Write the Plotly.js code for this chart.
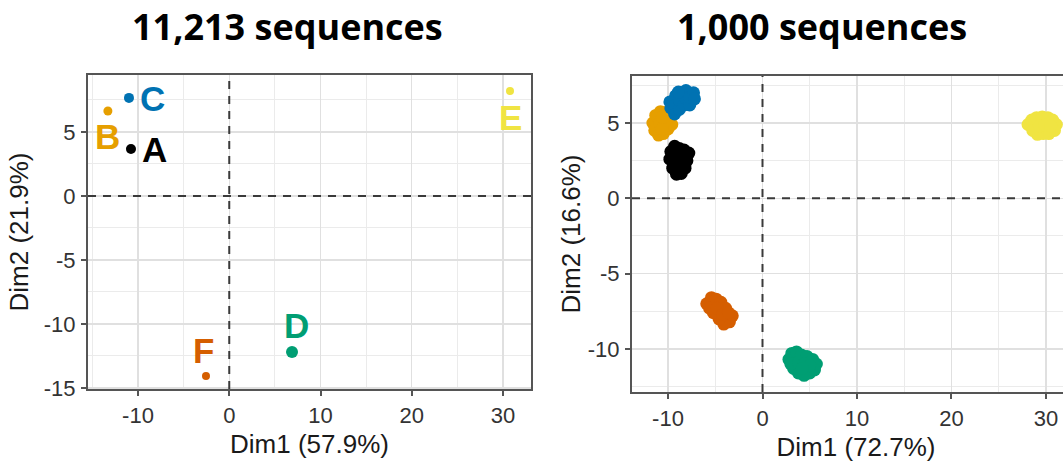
<!DOCTYPE html>
<html><head><meta charset="utf-8">
<script src="https://cdn.plot.ly/plotly-3.0.1.min.js"></script>
<style>html,body{margin:0;padding:0;overflow:hidden;background:#fff}#chart{width:1090px;height:462px}</style>
</head><body><div id="chart"></div>
<script>
// ---- data ----
const groups = ['A','B','C','D','E','F'];
const groupColors = ['#000000','#E69F00','#0072B2','#009E73','#F0E442','#D55E00'];

// Left panel: 11,213 sequences (one point per group)
const leftX = [-10.77, -13.3, -10.99, 6.88, 30.77, -2.55];
const leftY = [3.67, 6.64, 7.66, -12.19, 8.2, -14.06];

// Right panel: 1,000 sequences (points read from each cluster)
const rightAX = [-9.8,-9.7,-9.3,-8.8,-8.3,-7.8,-8.0,-8.2,-8.6,-9.1,-9.5,-9.2,-8.7,-8.9,-8.8];
const rightAY = [2.6,3.1,3.45,3.3,3.2,3.0,2.5,2.0,1.65,1.6,2.0,2.6,2.6,3.0,2.1];
const rightBX = [-11.6,-11.4,-11.0,-10.5,-10.0,-9.6,-9.8,-10.3,-10.8,-11.3,-10.9,-10.4,-10.6,-10.6];
const rightBY = [5.0,4.5,4.2,4.3,4.6,4.9,5.4,5.7,5.75,5.5,5.0,5.0,4.6,5.4];
const rightCX = [-9.8,-9.7,-9.3,-9.4,-9.2,-8.8,-8.8,-8.6,-8.1,-8.3,-8.2,-7.7,-7.7,-7.3,-7.2,-8.9];
const rightCY = [6.4,6.0,5.6,6.3,6.8,5.9,6.5,7.0,7.15,6.2,6.7,6.2,6.7,7.0,6.6,7.05];
const rightDX = [2.8,3.1,3.6,4.1,4.7,5.3,5.7,5.5,5.0,4.4,3.8,3.3,3.0,3.8,4.4,5.0,4.2];
const rightDY = [-10.7,-10.3,-10.2,-10.4,-10.5,-10.7,-11.0,-11.4,-11.6,-11.75,-11.6,-11.3,-11.0,-10.9,-11.0,-11.1,-11.3];
const rightEX = [28.1,28.5,29.0,29.6,30.2,30.7,31.1,30.9,30.3,29.7,29.1,28.6,29.3,29.9,30.5];
const rightEY = [4.9,5.2,5.35,5.4,5.35,5.2,4.9,4.5,4.3,4.3,4.25,4.5,4.8,4.85,4.8];
const rightFX = [-5.9,-5.4,-4.9,-4.4,-3.9,-3.2,-3.5,-4.1,-4.6,-5.2,-5.6,-4.8,-4.2,-3.6];
const rightFY = [-7.0,-6.6,-6.7,-6.9,-7.3,-7.8,-8.2,-8.35,-8.0,-7.6,-7.3,-7.3,-7.7,-7.6];

const xTickVals = [-10, 0, 10, 20, 30];
const xTickText = ['-10', '0', '10', '20', '30'];
const leftYTickVals = [-15, -10, -5, 0, 5];
const leftYTickText = ['-15', '-10', '-5', '0', '5'];
const rightYTickVals = [-10, -5, 0, 5];
const rightYTickText = ['-10', '-5', '0', '5'];

const panelTitles = ['11,213 sequences', '1,000 sequences'];
const xTitles = ['Dim1 (57.9%)', 'Dim1 (72.7%)'];
const yTitles = ['Dim2 (21.9%)', 'Dim2 (16.6%)'];

// ---- styling ----
const leftSizes = [10, 9, 10, 12, 8, 8];
const labelShift = [[24, -1], [0, -26], [24, -1], [4, 27], [0, -26], [-2, 25]];

const traces = [];
groups.forEach((g, i) => {
  traces.push({
    type: 'scatter', mode: 'markers', x: [leftX[i]], y: [leftY[i]],
    xaxis: 'x', yaxis: 'y', name: g, showlegend: false, hoverinfo: 'skip',
    marker: {color: groupColors[i], size: leftSizes[i]}
  });
});
const rightSets = [[rightAX, rightAY], [rightBX, rightBY], [rightCX, rightCY],
                   [rightDX, rightDY], [rightEX, rightEY], [rightFX, rightFY]];
rightSets.forEach((s, i) => {
  traces.push({
    type: 'scatter', mode: 'markers', x: s[0], y: s[1],
    xaxis: 'x2', yaxis: 'y2', name: groups[i], showlegend: false, hoverinfo: 'skip',
    marker: {color: groupColors[i], size: 13}
  });
});

const W = 1090, H = 462;
function axisBase(extra) {
  return Object.assign({
    showline: true, mirror: true, linecolor: '#555555', linewidth: 2,
    ticks: 'outside', ticklen: 5, tickwidth: 2, tickcolor: '#555555',
    showgrid: true, gridcolor: '#e0e0e0', gridwidth: 1.5,
    zeroline: false, tickmode: 'array',
    tickfont: {size: 22, color: '#333333'},
    fixedrange: true
  }, extra);
}

const labelAnnotations = groups.map((g, i) => ({
  xref: 'x', yref: 'y', x: leftX[i], y: leftY[i], text: g, showarrow: false,
  xshift: labelShift[i][0], yshift: labelShift[i][1],
  font: {size: 35, color: groupColors[i], family: 'Liberation Sans, Arial, sans-serif', weight: 'bold'}
}));

const titleAnnotations = [
  {xref: 'paper', yref: 'paper', x: 287 / W, y: 1 - 27 / H, xanchor: 'center', yanchor: 'middle',
   text: '<b>' + panelTitles[0] + '</b>', showarrow: false,
   font: {size: 36, color: '#000', family: 'Open Sans, sans-serif'}},
  {xref: 'paper', yref: 'paper', x: 822 / W, y: 1 - 27 / H, xanchor: 'center', yanchor: 'middle',
   text: '<b>' + panelTitles[1] + '</b>', showarrow: false,
   font: {size: 36, color: '#000', family: 'Open Sans, sans-serif'}}
];

const dashLine = {color: '#3a3a3a', width: 2, dash: '8px,7px'};
const shapes = [
  {type: 'line', xref: 'x', yref: 'y domain', x0: 0, x1: 0, y0: 0, y1: 1, line: dashLine},
  {type: 'line', xref: 'x domain', yref: 'y', x0: 0, x1: 1, y0: 0, y1: 0, line: dashLine},
  {type: 'line', xref: 'x2', yref: 'y2 domain', x0: 0, x1: 0, y0: 0, y1: 1, line: dashLine},
  {type: 'line', xref: 'x2 domain', yref: 'y2', x0: 0, x1: 1, y0: 0, y1: 0, line: dashLine}
];

const layout = {
  width: W, height: H, margin: {l: 0, r: 0, t: 0, b: 0},
  paper_bgcolor: '#fff', plot_bgcolor: '#fff',
  font: {family: 'Liberation Sans, Arial, sans-serif', color: '#1a1a1a'},
  showlegend: false,
  xaxis: axisBase({domain: [88 / W, 531 / W], range: [-15.48, 33.07], anchor: 'y',
    tickvals: xTickVals, ticktext: xTickText, ticklabelstandoff: 1,
    minor: {tickvals: [-15, -5, 5, 15, 25], showgrid: true, gridcolor: '#ebebeb', gridwidth: 1, ticks: ''},
    title: {text: xTitles[0], font: {size: 26, color: '#1a1a1a'}, standoff: 7}}),
  yaxis: axisBase({domain: [(H - 389) / H, (H - 75) / H], range: [-15.08, 9.45], anchor: 'x',
    tickvals: leftYTickVals, ticktext: leftYTickText, ticklabelstandoff: 1,
    minor: {tickvals: [-12.5, -7.5, -2.5, 2.5, 7.5], showgrid: true, gridcolor: '#ebebeb', gridwidth: 1, ticks: ''},
    title: {text: yTitles[0], font: {size: 26, color: '#1a1a1a'}, standoff: 8}}),
  xaxis2: axisBase({domain: [632 / W, 1080 / W], range: [-13.81, 33.6], anchor: 'y2',
    tickvals: xTickVals, ticktext: xTickText, ticklabelstandoff: 1,
    minor: {tickvals: [-5, 5, 15, 25], showgrid: true, gridcolor: '#ebebeb', gridwidth: 1, ticks: ''},
    title: {text: xTitles[1], font: {size: 26, color: '#1a1a1a'}, standoff: 7}}),
  yaxis2: axisBase({domain: [(H - 392) / H, (H - 76) / H], range: [-12.86, 8.12], anchor: 'x2',
    tickvals: rightYTickVals, ticktext: rightYTickText, ticklabelstandoff: 1,
    minor: {tickvals: [-12.5, -7.5, -2.5, 2.5, 7.5], showgrid: true, gridcolor: '#ebebeb', gridwidth: 1, ticks: ''},
    title: {text: yTitles[1], font: {size: 26, color: '#1a1a1a'}, standoff: 0}}),
  shapes: shapes,
  annotations: titleAnnotations.concat(labelAnnotations)
};

Plotly.newPlot('chart', traces, layout, {staticPlot: true, displayModeBar: false});
</script>
</body></html>
